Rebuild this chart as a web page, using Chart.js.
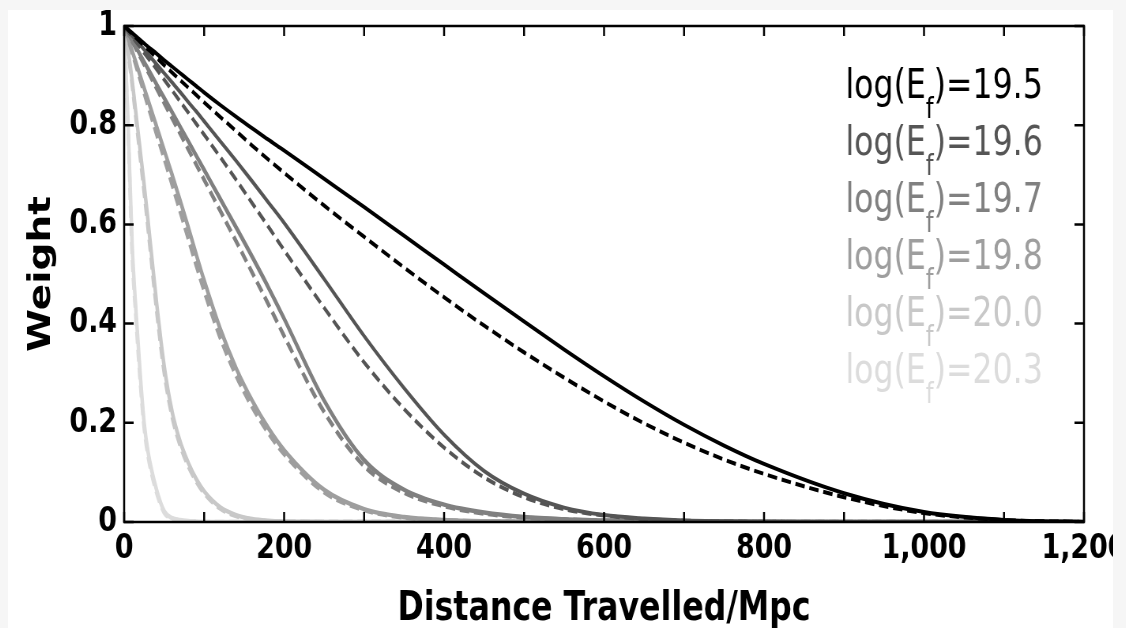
<!DOCTYPE html>
<html lang="en">
<head>
    <meta charset="UTF-8">
    <title>Weight vs distance travelled</title>
    <script src="https://cdn.jsdelivr.net/npm/chart.js"></script>
    <style>
        html, body { margin: 0; padding: 0; background: #f6f6f6; width: 1126px; height: 628px; overflow: hidden; }
        #fig { position: absolute; left: 8px; top: 10px; width: 1105px; height: 618px; background: #fff; overflow: hidden; }
        /* the original figure is squeezed sideways, so draw wide and squeeze it */
        #wrap { position: absolute; left: 0; top: 0; width: 1399px; height: 618px; transform: scaleX(0.79); transform-origin: 0 0; }
    </style>
</head>
<body>
    <div id="fig">
        <div id="wrap"><canvas id="chart"></canvas></div>
    </div>

    <script>
        // distance travelled (Mpc), shared by every curve
        const distance = [0, 5, 10, 15, 20, 25, 30, 40, 50, 60, 70, 80, 90, 100, 120, 140, 160, 180, 200,
                          250, 300, 350, 400, 450, 500, 550, 600, 650, 700, 750, 800, 900, 1000, 1100, 1200];

        // weight, solid and dashed, one pair per log(E_f)
        const w195  = [1, 0.993, 0.986, 0.979, 0.972, 0.965, 0.958, 0.945, 0.931, 0.918, 0.905, 0.892, 0.879, 0.866, 0.841, 0.817, 0.794, 0.771, 0.749,
                       0.692, 0.635, 0.577, 0.519, 0.461, 0.404, 0.348, 0.294, 0.243, 0.196, 0.154, 0.117, 0.058, 0.02, 0.004, 0];
        const w195d = [1, 0.992, 0.984, 0.976, 0.968, 0.96, 0.953, 0.937, 0.921, 0.906, 0.891, 0.876, 0.861, 0.846, 0.817, 0.788, 0.759, 0.731, 0.704,
                       0.638, 0.575, 0.513, 0.453, 0.396, 0.342, 0.291, 0.243, 0.199, 0.16, 0.126, 0.097, 0.05, 0.018, 0.004, 0];
        const w196  = [1, 0.9905, 0.981, 0.9715, 0.962, 0.9525, 0.943, 0.924, 0.905, 0.886, 0.867, 0.847, 0.828, 0.808, 0.768, 0.728, 0.687, 0.645, 0.603,
                       0.49, 0.375, 0.27, 0.176, 0.103, 0.057, 0.029, 0.014, 0.007, 0.003, 0.0015, 0.0007, 0, 0, 0, 0];
        const w196d = [1, 0.989, 0.978, 0.968, 0.957, 0.946, 0.935, 0.914, 0.892, 0.87, 0.848, 0.826, 0.803, 0.781, 0.736, 0.69, 0.643, 0.596, 0.548,
                       0.432, 0.322, 0.228, 0.15, 0.09, 0.05, 0.026, 0.013, 0.006, 0.0027, 0.0012, 0.0005, 0, 0, 0, 0];
        const w197  = [1, 0.9855, 0.971, 0.9565, 0.942, 0.9275, 0.913, 0.884, 0.855, 0.826, 0.797, 0.768, 0.739, 0.71, 0.652, 0.594, 0.535, 0.474, 0.41,
                       0.245, 0.125, 0.065, 0.035, 0.019, 0.01, 0.0055, 0.003, 0.0015, 0.0007, 0.0003, 0, 0, 0, 0, 0];
        const w197d = [1, 0.9845, 0.969, 0.9535, 0.938, 0.9225, 0.907, 0.876, 0.845, 0.814, 0.783, 0.752, 0.721, 0.69, 0.628, 0.566, 0.503, 0.44, 0.375,
                       0.222, 0.113, 0.059, 0.032, 0.017, 0.009, 0.005, 0.0027, 0.0013, 0.0006, 0.0002, 0, 0, 0, 0, 0];
        const w198  = [1, 0.975, 0.95, 0.925, 0.90, 0.875, 0.85, 0.80, 0.75, 0.70, 0.648, 0.595, 0.54, 0.487, 0.39, 0.31, 0.245, 0.19, 0.145,
                       0.065, 0.026, 0.01, 0.004, 0.0015, 0.0006, 0.0002, 0, 0, 0, 0, 0, 0, 0, 0, 0];
        const w198d = [1, 0.973, 0.946, 0.919, 0.892, 0.865, 0.838, 0.785, 0.733, 0.68, 0.626, 0.572, 0.518, 0.466, 0.372, 0.295, 0.232, 0.18, 0.137,
                       0.06, 0.024, 0.009, 0.0035, 0.0013, 0.0005, 0.0002, 0, 0, 0, 0, 0, 0, 0, 0, 0];
        const w200  = [1, 0.95, 0.89, 0.82, 0.75, 0.68, 0.605, 0.45, 0.315, 0.222, 0.162, 0.12, 0.087, 0.062, 0.03, 0.014, 0.006, 0.0025, 0.001,
                       0.0002, 0, 0, 0, 0, 0, 0, 0, 0, 0, 0, 0, 0, 0, 0, 0];
        const w200d = [1, 0.945, 0.882, 0.81, 0.737, 0.665, 0.59, 0.435, 0.302, 0.212, 0.154, 0.113, 0.082, 0.058, 0.027, 0.012, 0.005, 0.002, 0.0008,
                       0.0001, 0, 0, 0, 0, 0, 0, 0, 0, 0, 0, 0, 0, 0, 0, 0];
        const w203  = [1, 0.80, 0.56, 0.42, 0.30, 0.20, 0.14, 0.068, 0.022, 0.008, 0.004, 0.002, 0.001, 0, 0, 0, 0, 0, 0,
                       0, 0, 0, 0, 0, 0, 0, 0, 0, 0, 0, 0, 0, 0, 0, 0];
        const w203d = [1, 0.79, 0.54, 0.405, 0.285, 0.19, 0.132, 0.062, 0.019, 0.007, 0.003, 0.0015, 0.0008, 0, 0, 0, 0, 0, 0,
                       0, 0, 0, 0, 0, 0, 0, 0, 0, 0, 0, 0, 0, 0, 0, 0];

        const energies = ['19.5', '19.6', '19.7', '19.8', '20.0', '20.3'];
        const shades   = ['#000000', '#555555', '#808080', '#9e9e9e', '#c8c8c8', '#dcdcdc'];
        const solids   = [w195, w196, w197, w198, w200, w203];
        const dashed   = [w195d, w196d, w197d, w198d, w200d, w203d];

        const xTicks = [0, 200, 400, 600, 800, 1000, 1200];
        const yTicks = [0, 0.2, 0.4, 0.6, 0.8, 1];

        function toPoints(ys) {
            return distance.map((d, i) => ({ x: d, y: ys[i] }));
        }

        // dataset 0 is painted last, so the dark curves go first
        const datasets = [];
        energies.forEach((e, i) => {
            const lw = i < 2 ? 4 : 4.5;
            datasets.push({
                label: 'log(E_f)=' + e,
                data: toPoints(solids[i]),
                borderColor: shades[i],
                borderWidth: lw
            });
            datasets.push({
                label: 'log(E_f)=' + e + ' (dashed)',
                data: toPoints(dashed[i]),
                borderColor: shades[i],
                borderWidth: lw,
                borderDash: [12, 6]
            });
        });

        // box round the plot with MATLAB style inward ticks
        const boxPlugin = {
            id: 'box',
            afterDatasetsDraw(chart) {
                const ctx = chart.ctx;
                const { left, right, top, bottom } = chart.chartArea;
                const xs = chart.scales.x, ys = chart.scales.y;
                ctx.save();
                ctx.strokeStyle = '#000';
                ctx.lineWidth = 2.5;
                ctx.strokeRect(left, top, right - left, bottom - top);
                ctx.beginPath();
                xs.ticks.forEach(t => {
                    const px = xs.getPixelForValue(t.value);
                    ctx.moveTo(px, bottom); ctx.lineTo(px, bottom - 10);
                    ctx.moveTo(px, top); ctx.lineTo(px, top + 10);
                });
                ys.ticks.forEach(t => {
                    const py = ys.getPixelForValue(t.value);
                    ctx.moveTo(left, py); ctx.lineTo(left + 12, py);
                    ctx.moveTo(right, py); ctx.lineTo(right - 12, py);
                });
                ctx.stroke();
                ctx.restore();
            }
        };

        // axis titles and the text legend with the subscript f
        const textPlugin = {
            id: 'texts',
            afterDraw(chart) {
                const ctx = chart.ctx;
                const { left, right, top, bottom } = chart.chartArea;
                ctx.save();
                ctx.fillStyle = '#000';
                ctx.font = 'bold 40px "DejaVu Sans"';
                ctx.textAlign = 'center';
                ctx.textBaseline = 'alphabetic';
                ctx.fillText('Distance Travelled/Mpc', (left + right) / 2, 610);

                ctx.save();
                ctx.translate(43, (top + bottom) / 2);
                ctx.rotate(-Math.PI / 2);
                ctx.font = 'bold 39px "DejaVu Sans"';
                ctx.textBaseline = 'middle';
                ctx.fillText('Weight', 0, 0);
                ctx.restore();

                ctx.textAlign = 'left';
                const lx = 1060;
                energies.forEach((e, i) => {
                    const by = 88 + 57 * i;
                    ctx.fillStyle = shades[i];
                    ctx.font = '40px "DejaVu Sans"';
                    ctx.fillText('log(E', lx, by);
                    let x = lx + ctx.measureText('log(E').width;
                    ctx.font = '28px "DejaVu Sans"';
                    ctx.fillText('f', x, by + 20);
                    x += ctx.measureText('f').width;
                    ctx.font = '40px "DejaVu Sans"';
                    ctx.fillText(')=' + e, x, by);
                });
                ctx.restore();
            }
        };

        const tickFont = { family: 'DejaVu Sans', size: 34, weight: 'bold' };

        new Chart(document.getElementById('chart'), {
            type: 'line',
            data: { datasets: datasets },
            options: {
                responsive: true,
                maintainAspectRatio: false,
                animation: false,
                layout: { padding: { left: 0, top: 16, right: 37, bottom: 0 } },
                elements: {
                    point: { radius: 0 },
                    line: { cubicInterpolationMode: 'monotone', fill: false }
                },
                plugins: {
                    legend: { display: false },
                    tooltip: { enabled: false }
                },
                scales: {
                    x: {
                        type: 'linear',
                        min: 0,
                        max: 1200,
                        grid: { display: false, drawTicks: false },
                        border: { display: false },
                        ticks: {
                            stepSize: 100,
                            autoSkip: false,
                            maxRotation: 0,
                            minRotation: 0,
                            padding: 7,
                            color: '#000',
                            font: tickFont,
                            callback: v => xTicks.includes(v) ? v.toLocaleString('en-US') : ''
                        },
                        afterFit(scale) {
                            scale.height = 106;
                            scale.paddingLeft = 0;
                            scale.paddingRight = 0;
                        }
                    },
                    y: {
                        min: 0,
                        max: 1,
                        grid: { display: false, drawTicks: false },
                        border: { display: false },
                        ticks: {
                            stepSize: 0.2,
                            padding: 9,
                            color: '#000',
                            font: tickFont,
                            callback: v => {
                                const hit = yTicks.find(t => Math.abs(t - v) < 1e-6);
                                return hit === undefined ? '' : String(hit);
                            }
                        },
                        afterFit(scale) {
                            scale.width = 147;
                            scale.paddingTop = 0;
                            scale.paddingBottom = 0;
                        }
                    }
                }
            },
            plugins: [boxPlugin, textPlugin]
        });
    </script>
</body>
</html>
